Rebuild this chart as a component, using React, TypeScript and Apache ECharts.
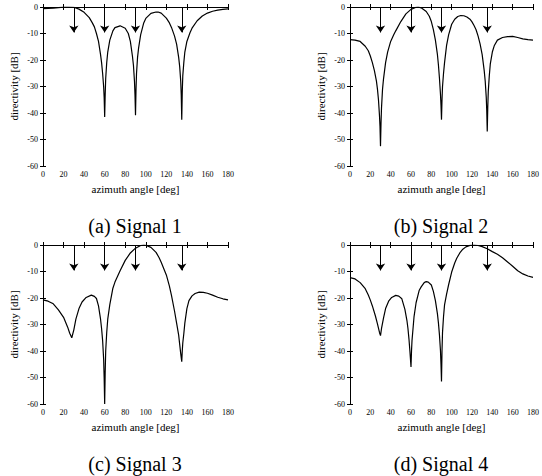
import React, { useEffect, useRef } from "react";
import * as echarts from "echarts";

// ---- data ----
const xRange = { min: 0, max: 180, interval: 20 };
const yRange = { min: -60, max: 0, interval: 10 };
const steeringAngles = [30, 60, 90, 135];
const arrowTip = -9.6;
const captions = ["(a) Signal 1", "(b) Signal 2", "(c) Signal 3", "(d) Signal 4"];
const xAxisName = "azimuth angle [deg]";
const yAxisName = "directivity [dB]";

const signal1: [number, number][] = [
  [0, -0.6], [5, -0.5], [10, -0.4], [15, -0.2], [20, -0.05], [25, 0], [30, -0.1], [35, -0.8],
  [40, -2], [45, -4], [48, -6], [50, -7.5], [52, -10], [54, -13], [56, -18], [57, -21],
  [58, -25], [59, -30], [59.5, -34], [60, -41.5], [60.5, -33], [61, -27], [62, -21], [63, -17],
  [65, -12.5], [68, -9], [70, -7.8], [75, -7.1], [80, -8], [83, -10], [85, -13], [87, -18.5],
  [88, -22], [89, -28], [89.5, -33], [90, -40.8], [90.5, -31], [91, -25], [92, -19], [93, -15.5],
  [95, -10.5], [98, -6], [100, -4.3], [105, -2.4], [110, -1.9], [112, -1.9], [115, -2.3],
  [120, -4.2], [123, -6], [125, -7.7], [128, -11], [130, -14], [132, -19], [133, -22.5],
  [134, -28], [134.5, -33], [135, -42.5], [135.5, -32], [136, -26], [137, -21], [138, -17],
  [140, -13], [143, -9.7], [145, -8], [150, -5.2], [155, -3.4], [160, -2.3], [165, -1.6],
  [170, -1.2], [175, -0.9], [180, -0.7],
];

const signal2: [number, number][] = [
  [0, -12.3], [5, -12.5], [10, -13], [15, -14.8], [18, -16.5], [20, -18.5], [22, -21], [24, -24],
  [26, -28], [27, -31], [28, -35], [29, -41], [29.5, -45], [30, -52.5], [30.5, -44], [31, -38],
  [32, -31], [33, -27], [35, -21], [37, -17], [40, -13], [43, -10.5], [45, -9], [50, -5.5],
  [55, -2.6], [60, -0.9], [65, -0.1], [67, 0], [70, -0.3], [75, -1.7], [78, -3.5], [80, -5.5],
  [82, -8.5], [84, -12.5], [86, -18], [87, -22], [88, -27], [89, -33], [89.5, -37], [90, -42.5],
  [90.5, -35], [91, -30], [92, -25], [93, -21], [95, -14.5], [97, -10.5], [100, -6.5],
  [103, -4.6], [106, -3.6], [109, -3.2], [112, -3.3], [115, -3.8], [118, -4.6], [120, -5.6],
  [122, -7], [124, -8.6], [126, -11], [128, -14], [130, -18], [132, -24], [133, -28], [134, -34],
  [134.5, -39], [135, -47], [135.5, -38], [136, -32], [137, -26], [138, -21.5], [140, -17],
  [142, -14.5], [145, -12.5], [150, -11.5], [155, -11.2], [160, -11.1], [165, -11.5], [170, -12],
  [175, -12.3], [180, -12.5],
];

const signal3: [number, number][] = [
  [0, -20.7], [5, -21.2], [10, -22.2], [15, -24.5], [20, -27.3], [24, -31], [26, -33.3], [28, -35],
  [30, -32], [32, -28], [35, -24], [38, -21.5], [42, -19.8], [47, -18.9], [50, -19.4], [52, -20.2],
  [54, -23], [56, -28], [57, -31.5], [58, -36], [59, -43], [59.5, -50], [60, -60], [60.5, -48],
  [61, -40], [62, -33], [63, -28], [65, -22.5], [68, -16.3], [70, -14], [75, -9.7], [80, -5.8],
  [85, -3], [90, -1.2], [95, -0.2], [98, 0], [100, -0.1], [105, -0.9], [110, -2.8], [113, -4.8],
  [115, -6.5], [120, -11.3], [123, -15.5], [125, -19], [128, -25], [130, -29.5], [132, -34],
  [133, -37.5], [134, -41], [135, -44], [135.5, -40], [136, -37], [137, -33.5], [138, -29.5],
  [140, -24], [142, -21], [145, -19.2], [148, -18.3], [152, -17.8], [156, -17.9], [160, -18.2],
  [165, -18.9], [170, -19.7], [175, -20.3], [180, -20.7],
];

const signal4: [number, number][] = [
  [0, -12.3], [5, -12.8], [10, -14.2], [15, -16.5], [18, -18.9], [20, -20.8], [22, -23], [25, -26.8],
  [27, -29.8], [29, -33], [30, -34.2], [31, -31.5], [33, -27.5], [35, -24], [38, -21.2], [41, -19.8],
  [45, -19], [48, -19.3], [51, -20.3], [54, -24.3], [56, -28.5], [57, -31.5], [58, -35.5],
  [59, -40.5], [60, -46], [60.5, -40], [61, -36], [62, -31.5], [63, -27], [65, -21.8], [68, -17.2],
  [70, -15.8], [73, -14.2], [75, -13.8], [77, -14], [80, -15.1], [82, -17.5], [84, -21], [86, -26],
  [87, -29.5], [88, -34], [89, -40], [89.5, -45], [90, -51.5], [90.5, -40], [91, -33], [92, -27],
  [93, -22.6], [95, -18.5], [97, -15], [100, -10.2], [103, -6.8], [105, -5], [108, -3],
  [111, -1.6], [114, -0.7], [118, -0.15], [122, 0], [126, -0.2], [130, -0.6], [135, -1.4],
  [140, -2.5], [145, -3.5], [150, -4.8], [155, -6.4], [160, -8], [165, -9.7], [170, -10.9],
  [175, -11.7], [180, -12.2],
];

const signals = [signal1, signal2, signal3, signal4];

// ---- layout ----
const FONT = "'Liberation Serif', 'Times New Roman', Times, serif";
const grids = [
  { left: 43, top: 7, width: 185, height: 159 },
  { left: 350, top: 7, width: 184, height: 159 },
  { left: 43, top: 245, width: 185, height: 159 },
  { left: 350, top: 245, width: 184, height: 159 },
];
const captionPos = [
  [135, 226],
  [441, 226],
  [135, 464],
  [441, 464],
];

export default function App() {
  const ref = useRef<HTMLDivElement>(null);
  useEffect(() => {
    if (!ref.current) return;
    const chart = echarts.init(ref.current, undefined, { renderer: "svg" });
    const axisLine = { show: true, lineStyle: { color: "#000", width: 1 } };
    const tick = { show: true, inside: true, length: 3, lineStyle: { color: "#000", width: 1 } };
    const label = { color: "#000", fontSize: 8, fontFamily: FONT };

    const xAxes: any[] = [];
    const yAxes: any[] = [];
    grids.forEach((_, i) => {
      xAxes.push({
        type: "value", gridIndex: i, position: "bottom", ...xRange,
        name: xAxisName, nameLocation: "middle", nameGap: 17,
        nameTextStyle: { color: "#000", fontSize: 11, fontFamily: FONT },
        axisLine, axisTick: tick, axisLabel: { ...label, margin: 4 }, splitLine: { show: false },
      });
      yAxes.push({
        type: "value", gridIndex: i, position: "left", ...yRange,
        name: yAxisName, nameLocation: "middle", nameGap: 24, nameRotate: 90,
        nameTextStyle: { color: "#000", fontSize: 11, fontFamily: FONT },
        axisLine, axisTick: tick, axisLabel: { ...label, margin: 5 }, splitLine: { show: false },
      });
    });
    grids.forEach((_, i) => {
      xAxes.push({
        type: "value", gridIndex: i, position: "top", ...xRange,
        axisLine, axisTick: tick, axisLabel: { show: false }, splitLine: { show: false },
      });
      yAxes.push({
        type: "value", gridIndex: i, position: "right", ...yRange,
        axisLine, axisTick: tick, axisLabel: { show: false }, splitLine: { show: false },
      });
    });

    const series = signals.map((data, i) => ({
      type: "line",
      xAxisIndex: i,
      yAxisIndex: i,
      data,
      showSymbol: false,
      symbol: "none",
      silent: true,
      clip: true,
      lineStyle: { color: "#000", width: 1.2 },
      markLine: {
        silent: true,
        symbol: ["none", "arrow"],
        symbolSize: 7,
        label: { show: false },
        lineStyle: { color: "#000", width: 1, type: "solid" },
        itemStyle: { color: "#000" },
        emphasis: { disabled: true },
        data: steeringAngles.map((a) => [{ coord: [a, 0] }, { coord: [a, arrowTip] }]),
      },
    }));

    chart.setOption({
      animation: false,
      backgroundColor: "#fff",
      textStyle: { fontFamily: FONT },
      grid: grids.map((g) => ({ ...g, containLabel: false })),
      xAxis: xAxes,
      yAxis: yAxes,
      series,
      graphic: captions.map((c, i) => ({
        type: "text",
        x: captionPos[i][0],
        y: captionPos[i][1],
        silent: true,
        style: {
          text: c,
          fill: "#000",
          fontSize: 20,
          fontFamily: FONT,
          align: "center",
          verticalAlign: "middle",
        },
      })),
    });
    return () => chart.dispose();
  }, []);
  return (
    <div
      ref={ref}
      style={{ position: "absolute", left: 0, top: 0, width: 542, height: 476, background: "#fff" }}
    />
  );
}
